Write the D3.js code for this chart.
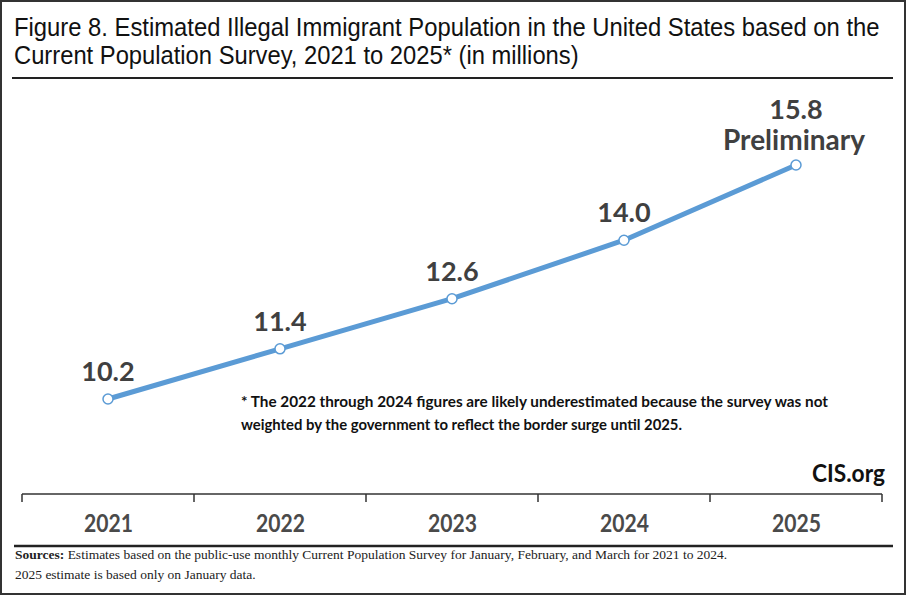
<!DOCTYPE html>
<html>
<head>
<meta charset="utf-8">
<script src="https://cdn.jsdelivr.net/npm/d3@7"></script>
<style>
  html, body { margin: 0; padding: 0; background: #fff; }
  svg { display: block; }
</style>
</head>
<body>
<svg id="viz"></svg>
<script>
const WIDTH = 906
const HEIGHT = 595

const years = ['2021', '2022', '2023', '2024', '2025']
const population = [10.2, 11.4, 12.6, 14.0, 15.8]
const valueLabels = ['10.2', '11.4', '12.6', '14.0', '15.8']
const extraLabels = ['', '', '', '', 'Preliminary']

const TITLE_LINES = [
    'Figure 8. Estimated Illegal Immigrant Population in the United States based on the',
    'Current Population Survey, 2021 to 2025* (in millions)'
]
const TITLE_WIDTHS = [866, 565]
const NOTE_LINES = [
    '* The 2022 through 2024 figures are likely underestimated because the survey was not',
    'weighted by the government to reflect the border surge until 2025.'
]
const SOURCE_LINE_1 = ' Estimates based on the public-use monthly Current Population Survey for January, February, and March for 2021 to 2024.'
const SOURCE_LINE_2 = '2025 estimate is based only on January data.'

const LINE_COLOR = '#5b9bd5'
const LABEL_COLOR = '#404040'
const CALIBRI = 'Lato, "Open Sans", sans-serif'
const NARROW = '"Liberation Sans Narrow", "Liberation Sans", sans-serif'

const svg = d3.select('#viz')
    .attr('width', WIDTH)
    .attr('height', HEIGHT)

// outer frame
svg.append('rect')
    .attr('x', 1).attr('y', 1)
    .attr('width', WIDTH - 2).attr('height', HEIGHT - 2)
    .style('fill', '#fff')
    .style('stroke', '#333')
    .style('stroke-width', 2)

// title: condensed look by squeezing horizontally to the measured widths
svg.append('g').selectAll('text')
    .data(TITLE_LINES)
    .enter().append('text')
        .attr('x', 0)
        .attr('y', 0)
        .style('font-family', NARROW)
        .style('font-size', '26px')
        .style('fill', '#111')
        .text(d => d)
        .each(function(d, i) {
            const len = this.getComputedTextLength()
            const k = TITLE_WIDTHS[i] / len
            d3.select(this).attr('transform', `translate(14,${36 + i * 28}) scale(${k},1)`)
        })

svg.append('line')
    .attr('x1', 12).attr('x2', 893)
    .attr('y1', 78).attr('y2', 78)
    .style('stroke', '#222')
    .style('stroke-width', 2)

const x = d3.scaleBand()
    .domain(years)
    .range([22, 882])

const y = d3.scaleLinear()
    .domain([10.2, 15.8])
    .range([399, 165])

// axis at the bottom, ticks on band edges
const axisY = 494
svg.append('line')
    .attr('x1', x.range()[0]).attr('x2', x.range()[1])
    .attr('y1', axisY).attr('y2', axisY)
    .style('stroke', '#333')
    .style('stroke-width', 1.5)

const edges = years.map(d => x(d)).concat([x.range()[1]])
svg.append('g').selectAll('line')
    .data(edges)
    .enter().append('line')
        .attr('x1', d => d).attr('x2', d => d)
        .attr('y1', axisY).attr('y2', axisY + 8)
        .style('stroke', '#333')
        .style('stroke-width', 1.5)

svg.append('g').selectAll('text')
    .data(years)
    .enter().append('text')
        .attr('x', d => x(d) + x.bandwidth() / 2 - 24)
        .attr('y', 532)
        .attr('textLength', 49)
        .attr('lengthAdjust', 'spacingAndGlyphs')
        .style('font-family', CALIBRI)
        .style('font-weight', 'bold')
        .style('font-size', '24px')
        .style('fill', '#4a4a4a')
        .text(d => d)

svg.append('line')
    .attr('x1', 14).attr('x2', 893)
    .attr('y1', 546).attr('y2', 546)
    .style('stroke', '#222')
    .style('stroke-width', 2.5)

// the line
const points = years.map((yr, i) => ({
    year: yr,
    value: population[i],
    label: valueLabels[i],
    extra: extraLabels[i]
}))
const cx = d => x(d.year) + x.bandwidth() / 2

svg.append('path')
    .datum(points)
    .attr('d', d3.line().x(cx).y(d => y(d.value)))
    .style('fill', 'none')
    .style('stroke', LINE_COLOR)
    .style('stroke-width', 5)
    .style('stroke-linejoin', 'round')

svg.append('g').selectAll('circle')
    .data(points)
    .enter().append('circle')
        .attr('cx', cx)
        .attr('cy', d => y(d.value))
        .attr('r', 5)
        .style('fill', '#fff')
        .style('stroke', LINE_COLOR)
        .style('stroke-width', 1.5)

svg.append('g').selectAll('text')
    .data(points)
    .enter().append('text')
        .attr('x', cx)
        .attr('y', d => y(d.value) - (d.extra ? 46 : 18))
        .attr('text-anchor', 'middle')
        .style('font-family', CALIBRI)
        .style('font-weight', 'bold')
        .style('font-size', '27px')
        .style('fill', LABEL_COLOR)
        .text(d => d.label)

svg.append('g').selectAll('text')
    .data(points.filter(d => d.extra))
    .enter().append('text')
        .attr('x', d => cx(d) - 2)
        .attr('y', d => y(d.value) - 15)
        .attr('text-anchor', 'middle')
        .style('font-family', CALIBRI)
        .style('font-weight', 'bold')
        .style('font-size', '28px')
        .style('fill', LABEL_COLOR)
        .text(d => d.extra)

// footnote
svg.append('g').selectAll('text')
    .data(NOTE_LINES)
    .enter().append('text')
        .attr('x', 241)
        .attr('y', (d, i) => 407 + i * 23)
        .attr('textLength', (d, i) => i === 0 ? 587 : 441)
        .attr('lengthAdjust', 'spacingAndGlyphs')
        .style('font-family', CALIBRI)
        .style('font-weight', 'bold')
        .style('font-size', '15px')
        .style('fill', '#111')
        .text(d => d)

svg.append('text')
    .attr('x', 812)
    .attr('y', 482)
    .attr('textLength', 73)
    .attr('lengthAdjust', 'spacingAndGlyphs')
    .style('font-family', CALIBRI)
    .style('font-weight', 'bold')
    .style('font-size', '25px')
    .style('fill', '#111')
    .text('CIS.org')

// sources
const src = svg.append('text')
    .attr('x', 15)
    .attr('y', 559)
    .style('font-family', '"Liberation Serif", serif')
    .style('font-size', '13.5px')
    .style('fill', '#222')
src.append('tspan').style('font-weight', 'bold').text('Sources:')
src.append('tspan').text(SOURCE_LINE_1)

svg.append('text')
    .attr('x', 15)
    .attr('y', 579)
    .style('font-family', '"Liberation Serif", serif')
    .style('font-size', '13.5px')
    .style('fill', '#222')
    .text(SOURCE_LINE_2)
</script>
</body>
</html>
